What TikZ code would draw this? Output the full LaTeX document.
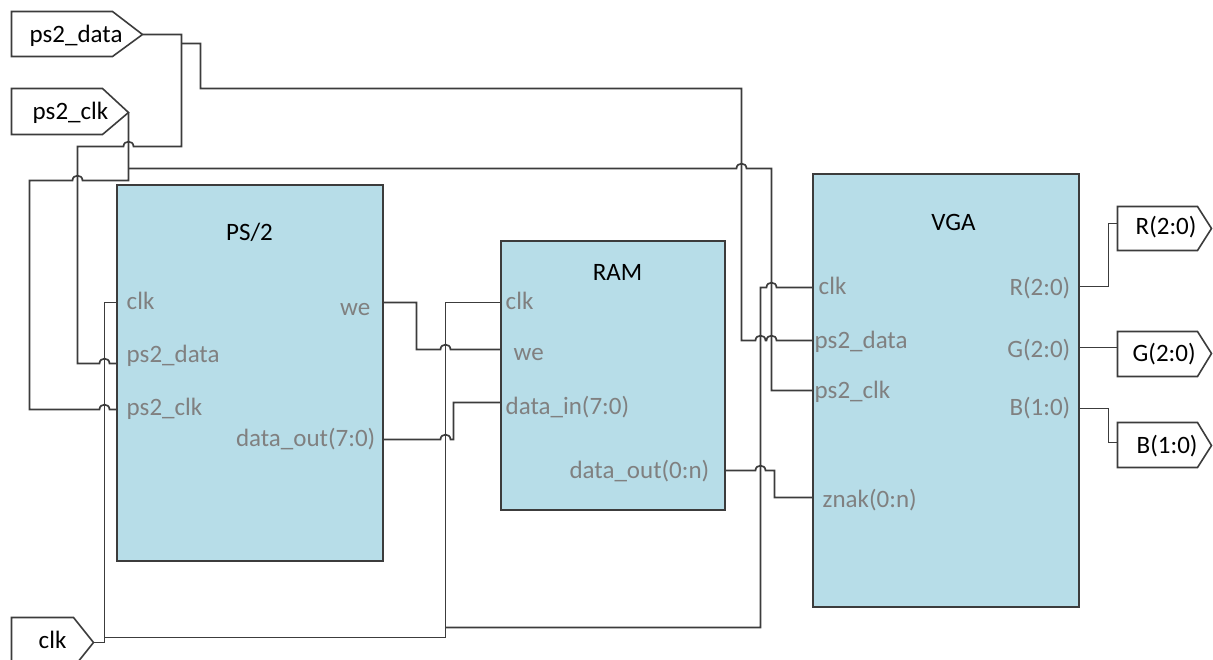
\documentclass[tikz,border=0pt]{standalone}
\usepackage{fontspec}
\setmainfont{Carlito}
\definecolor{boxfill}{HTML}{B7DDE8}
\definecolor{edge}{HTML}{3C3C3C}
\definecolor{pincol}{HTML}{808080}
\begin{document}
\begin{tikzpicture}[x=1pt,y=-1pt,
  font=\fontsize{25}{30}\selectfont,
  wire/.style={draw=edge, line width=1.7pt},
  box/.style={draw=edge, fill=boxfill, line width=2pt, inner sep=0pt, outer sep=0pt, anchor=north west},
  pinl/.style={text=pincol, anchor=base west, inner sep=0pt},
  pinr/.style={text=pincol, anchor=base east, inner sep=0pt},
  title/.style={text=black, anchor=base, inner sep=0pt},
  ptext/.style={text=black, anchor=base west, inner sep=0pt},
  port/.style={draw=edge, fill=white, line width=1.6pt},
  hopr/.style 2 args={insert path={-- (#1-5,#2) .. controls (#1-5,#2-6.5) and (#1+5,#2-6.5) .. (#1+5,#2)}},
  hopl/.style 2 args={insert path={-- (#1+5,#2) .. controls (#1+5,#2-6.5) and (#1-5,#2-6.5) .. (#1-5,#2)}},
]
\clip (0,0) rectangle (1213,660);
\fill[white] (0,0) rectangle (1213,660);
\begin{scope}[shift={(0.5,0.5)}]
% blocks
\node[box, minimum width=266pt, minimum height=375pt] (ps2) at (116,185) {};
\node[box, minimum width=224pt, minimum height=268pt] (ram) at (500,241) {};
\node[box, minimum width=266pt, minimum height=432pt] (vga) at (812,174) {};

\node[title] (ps2t) at (249,240) {PS/2};
\node[title] (ramt) at (617,280) {RAM};
\node[title] (vgat) at (953,230) {VGA};

% pin labels
\node[pinl] (l1) at (126,309) {clk};
\node[pinl] (l2) at (126,362) {ps2\_data};
\node[pinl] (l3) at (126,415) {ps2\_clk};
\node[pinr] (l4) at (370,315) {we};
\node[pinr] (l5) at (375,446) {data\_out(7:0)};
\node[pinl] (l6) at (505,309) {clk};
\node[pinl] (l7) at (513,360) {we};
\node[pinl] (l8) at (505,414) {data\_in(7:0)};
\node[pinr] (l9) at (709,478) {data\_out(0:n)};
\node[pinl] (l10) at (818,294) {clk};
\node[pinl] (l11) at (814,348) {ps2\_data};
\node[pinl] (l12) at (814,398) {ps2\_clk};
\node[pinl] (l13) at (822,507) {znak(0:n)};
\node[pinr] (l14) at (1070,295) {R(2:0)};
\node[pinr] (l15) at (1070,357) {G(2:0)};
\node[pinr] (l16) at (1070,415) {B(1:0)};

% pin coordinates
\coordinate (ps2clk) at (116,302);
\coordinate (ps2data) at (116,363);
\coordinate (ps2ps2clk) at (116,409);
\coordinate (ps2we) at (382,302);
\coordinate (ps2dout) at (382,439);
\coordinate (ramclk) at (500,302);
\coordinate (ramwe) at (500,349);
\coordinate (ramdin) at (500,402);
\coordinate (ramdout) at (724,470);
\coordinate (vgaclk) at (812,287);
\coordinate (vgadata) at (812,340);
\coordinate (vgaps2clk) at (812,390);
\coordinate (vgaznak) at (812,497);
\coordinate (vgaR) at (1078,286);
\coordinate (vgaG) at (1078,347);
\coordinate (vgaB) at (1078,408);

% ports
\draw[port] (11,11) -- (112,11) -- (142,34) -- (112,56) -- (11,56) -- cycle;
\coordinate (pdata) at (142,34);
\node[ptext] (pdatat) at (29,42) {ps2\_data};
\draw[port] (11,88) -- (102,88) -- (128,112) -- (102,134) -- (11,134) -- cycle;
\coordinate (pclk2) at (128,112);
\node[ptext] (pclk2t) at (32,119) {ps2\_clk};
\draw[port] (11,617) -- (73,617) -- (93,642) -- (73,667) -- (11,667) -- cycle;
\coordinate (pclk) at (93,642);
\node[ptext] (pclkt) at (38,648) {clk};
\draw[port] (1117,206) -- (1197,206) -- (1211,228) -- (1197,250) -- (1117,250) -- cycle;
\coordinate (oR) at (1117,223);
\node[ptext] (oRt) at (1135,234) {R(2:0)};
\draw[port] (1117,331) -- (1197,331) -- (1211,353) -- (1197,376) -- (1117,376) -- cycle;
\coordinate (oG) at (1117,347);
\node[ptext] (oGt) at (1132,361) {G(2:0)};
\draw[port] (1117,422) -- (1197,422) -- (1211,445) -- (1197,467) -- (1117,467) -- cycle;
\coordinate (oB) at (1117,442);
\node[ptext] (oBt) at (1136,453) {B(1:0)};

% wires
\draw[wire] (pdata) -- (181,34) -- (181,146) [hopl={128}{146}] -- (77,146) -- (77,363) [hopr={104}{363}] -- (ps2data);
\draw[wire] (181,43) -- (200,43) -- (200,88) -- (741,88) -- (741,340) [hopr={760}{340}] [hopr={771}{340}] -- (vgadata);
\draw[wire] (pclk2) -- (128,180) [hopl={77}{180}] -- (29,180) -- (29,409) [hopr={104}{409}] -- (ps2ps2clk);
\draw[wire] (128,168) [hopr={741}{168}] -- (771,168) -- (771,390) -- (vgaps2clk);
\draw[wire] (pclk) -- (104,642) -- (104,302) -- (ps2clk);
\draw[wire] (104,637) -- (445,637) -- (445,302) -- (ramclk);
\draw[wire] (445,627) -- (760,627) -- (760,287) [hopr={771}{287}] -- (vgaclk);
\draw[wire] (ps2we) -- (416,302) -- (416,349) [hopr={445}{349}] -- (ramwe);
\draw[wire] (ps2dout) [hopr={445}{439}] -- (453,439) -- (453,402) -- (ramdin);
\draw[wire] (ramdout) [hopr={760}{470}] -- (774,470) -- (774,497) -- (vgaznak);
\draw[wire] (vgaR) -- (1108,286) -- (1108,223) -- (oR);
\draw[wire] (vgaG) -- (oG);
\draw[wire] (vgaB) -- (1108,408) -- (1108,442) -- (oB);
\end{scope}
\end{tikzpicture}
\end{document}
